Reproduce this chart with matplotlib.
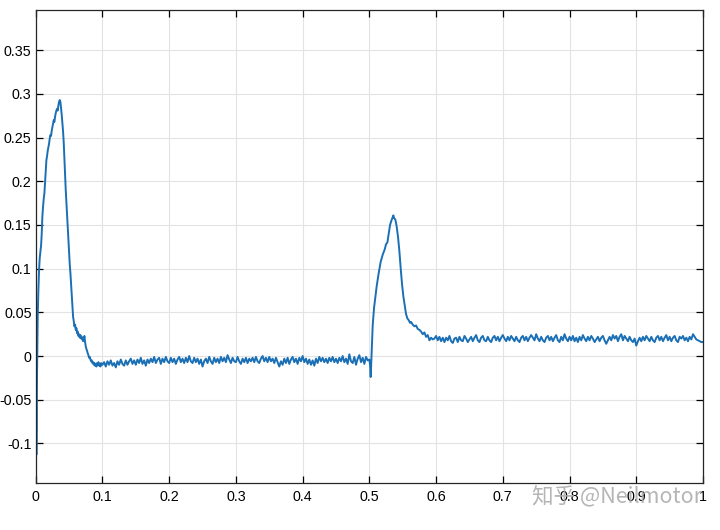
import numpy as np
import matplotlib
matplotlib.use("Agg")
import matplotlib.pyplot as plt
from matplotlib.ticker import FuncFormatter

# ---- Data (time in s, signal value) ----
# Segment A: start-up transient, 0 .. 0.1
t_start = [0.0, 0.0005, 0.001, 0.0015, 0.002, 0.003, 0.004, 0.005, 0.006, 0.007,
           0.0075, 0.008, 0.009, 0.010, 0.011, 0.012, 0.013, 0.014, 0.015, 0.016,
           0.017, 0.018, 0.019, 0.020, 0.021, 0.022, 0.023, 0.024, 0.025, 0.026,
           0.027, 0.028, 0.029, 0.030, 0.031, 0.032, 0.033, 0.034, 0.035, 0.036,
           0.037, 0.038, 0.039, 0.040, 0.041, 0.042, 0.043, 0.044, 0.045, 0.046,
           0.047, 0.048, 0.049, 0.050, 0.051, 0.052, 0.053, 0.054, 0.055, 0.056,
           0.057, 0.058, 0.059, 0.060, 0.061, 0.062, 0.063, 0.064, 0.065, 0.066,
           0.067, 0.068, 0.069, 0.070, 0.071, 0.072, 0.073, 0.074, 0.075, 0.076,
           0.077, 0.078, 0.079, 0.080, 0.081, 0.082, 0.083, 0.084, 0.085, 0.086,
           0.087, 0.088, 0.089, 0.090, 0.091, 0.092, 0.093, 0.094, 0.095, 0.096,
           0.097, 0.098, 0.099]
v_start = [0.072, -0.050, -0.113, -0.080, -0.020, 0.045, 0.075, 0.098, 0.112, 0.120,
           0.123, 0.126, 0.140, 0.160, 0.171, 0.180, 0.186, 0.198, 0.212, 0.224,
           0.229, 0.235, 0.239, 0.243, 0.249, 0.253, 0.252, 0.258, 0.262, 0.266,
           0.270, 0.268, 0.274, 0.278, 0.281, 0.283, 0.281, 0.287, 0.291, 0.293,
           0.291, 0.284, 0.276, 0.266, 0.257, 0.244, 0.225, 0.207, 0.190, 0.176,
           0.163, 0.149, 0.134, 0.118, 0.105, 0.095, 0.083, 0.070, 0.058, 0.045,
           0.040, 0.034, 0.036, 0.030, 0.032, 0.026, 0.028, 0.023, 0.025, 0.021,
           0.024, 0.020, 0.022, 0.019, 0.017, 0.020, 0.023, 0.016, 0.011, 0.008,
           0.006, 0.003, 0.001, -0.002, -0.001, -0.004, -0.006, -0.005, -0.008, -0.007,
           -0.010, -0.008, -0.011, -0.009, -0.012, -0.008, -0.010, -0.007, -0.011, -0.009,
           -0.012, -0.008, -0.010]

# Segment B: steady state 0.1 .. 0.4975 (step 0.0025)
v_steady1 = [-0.010, -0.007, -0.012, -0.006, -0.010, -0.005, -0.011, -0.008, -0.013, -0.006,
             -0.010, -0.004, -0.009, -0.011, -0.005, -0.010, -0.006, -0.003, -0.009, -0.005,
             -0.010, -0.004, -0.008, -0.002, -0.009, -0.005, -0.011, -0.004, -0.008, -0.003,
             -0.007, -0.001, -0.008, -0.004, -0.002, -0.009, -0.003, -0.007, -0.001, -0.006,
             -0.008, -0.002, -0.007, -0.003, -0.009, -0.004, -0.001, -0.007, -0.003, -0.008,
             -0.002, -0.007, 0.000, -0.006, -0.008, -0.002, -0.007, -0.003, -0.009, -0.004,
             -0.012, -0.006, -0.003, -0.008, -0.001, -0.006, -0.009, -0.002, -0.007, -0.003,
             -0.008, -0.001, -0.006, -0.002, -0.007, 0.001, -0.004, -0.008, -0.002, -0.006,
             -0.007, -0.001, -0.006, -0.009, -0.003, -0.007, -0.002, -0.008, -0.003, -0.006,
             -0.002, -0.007, -0.001, -0.006, -0.008, -0.003, 0.000, -0.006, -0.002, -0.007,
             -0.001, -0.006, -0.003, -0.008, -0.002, -0.007, -0.012, -0.006, -0.010, -0.003,
             -0.008, -0.002, -0.009, -0.004, -0.001, -0.007, -0.003, -0.009, -0.002, -0.006,
             0.000, -0.007, -0.003, -0.009, -0.004, -0.010, -0.005, -0.011, -0.003, -0.008,
             -0.001, -0.006, -0.002, -0.007, -0.003, -0.008, -0.002, -0.006, -0.001, -0.007,
             -0.003, -0.008, -0.002, -0.006, 0.000, -0.007, -0.003, -0.009, 0.002, -0.006,
             -0.008, -0.001, -0.010, -0.003, 0.001, -0.007, -0.002, -0.009, -0.001, -0.005]

# Segment C: load step transient, 0.5 .. 0.6
t_step = [0.500, 0.501, 0.502, 0.5035, 0.505, 0.507, 0.509, 0.511, 0.514, 0.517,
          0.520, 0.523, 0.525, 0.527, 0.529, 0.531, 0.533, 0.535, 0.536, 0.537,
          0.539, 0.541, 0.543, 0.545, 0.547, 0.549, 0.551, 0.553, 0.555, 0.557,
          0.559, 0.561, 0.5625, 0.565, 0.5675, 0.570, 0.5725, 0.575, 0.5775, 0.580,
          0.5825, 0.585, 0.5875, 0.590, 0.5925, 0.595, 0.5975]
v_step = [-0.004, -0.010, -0.024, 0.005, 0.035, 0.055, 0.068, 0.080, 0.095, 0.108,
          0.116, 0.122, 0.128, 0.130, 0.140, 0.150, 0.155, 0.159, 0.161, 0.158,
          0.156, 0.148, 0.136, 0.120, 0.100, 0.082, 0.068, 0.058, 0.048, 0.043,
          0.041, 0.038, 0.039, 0.036, 0.034, 0.035, 0.031, 0.030, 0.028, 0.025,
          0.027, 0.022, 0.024, 0.018, 0.021, 0.019, 0.020]

# Segment D: steady state 0.6 .. 1.0 (step 0.0025)
v_steady2 = [0.023, 0.018, 0.022, 0.017, 0.021, 0.016, 0.021, 0.018, 0.023, 0.017,
             0.015, 0.020, 0.021, 0.016, 0.022, 0.018, 0.017, 0.023, 0.020, 0.016,
             0.019, 0.022, 0.017, 0.021, 0.024, 0.018, 0.016, 0.021, 0.023, 0.018,
             0.017, 0.022, 0.018, 0.016, 0.021, 0.023, 0.018, 0.022, 0.017, 0.021,
             0.024, 0.020, 0.017, 0.022, 0.018, 0.023, 0.020, 0.017, 0.022, 0.018,
             0.016, 0.021, 0.023, 0.018, 0.022, 0.017, 0.021, 0.024, 0.021, 0.018,
             0.025, 0.020, 0.017, 0.022, 0.018, 0.016, 0.021, 0.023, 0.018, 0.022,
             0.017, 0.021, 0.024, 0.018, 0.016, 0.022, 0.018, 0.025, 0.020, 0.017,
             0.022, 0.018, 0.023, 0.017, 0.021, 0.016, 0.022, 0.018, 0.024, 0.020,
             0.017, 0.022, 0.018, 0.023, 0.020, 0.016, 0.019, 0.022, 0.017, 0.021,
             0.023, 0.018, 0.014, 0.018, 0.022, 0.018, 0.024, 0.020, 0.023, 0.017,
             0.022, 0.025, 0.018, 0.023, 0.020, 0.017, 0.022, 0.018, 0.016, 0.020,
             0.012, 0.017, 0.021, 0.017, 0.022, 0.018, 0.023, 0.020, 0.017, 0.022,
             0.018, 0.016, 0.021, 0.023, 0.018, 0.022, 0.017, 0.021, 0.024, 0.018,
             0.022, 0.017, 0.021, 0.023, 0.018, 0.016, 0.022, 0.020, 0.023, 0.018,
             0.021, 0.017, 0.022, 0.019, 0.025, 0.022, 0.019, 0.018, 0.017, 0.016,
             0.016]

x_ticks = [0, 0.1, 0.2, 0.3, 0.4, 0.5, 0.6, 0.7, 0.8, 0.9, 1.0]
y_ticks = [-0.1, -0.05, 0, 0.05, 0.1, 0.15, 0.2, 0.25, 0.3, 0.35]
watermark = "知乎 @Neilmotor"

# ---- Assemble series ----
t_steady1 = 0.1 + 0.0025 * np.arange(len(v_steady1))
t_steady2 = 0.6 + 0.0025 * np.arange(len(v_steady2))
t = np.concatenate([t_start, t_steady1, t_step, t_steady2])
v = np.concatenate([v_start, v_steady1, v_step, v_steady2])

plt.rcParams['font.family'] = ['Liberation Sans', 'DejaVu Sans']

fig = plt.figure(figsize=(7.2, 5.3), dpi=100)
ax = fig.add_axes([0.0496, 0.0892, 0.9268, 0.8918])

ax.plot(t, v, color='#1a6fb5', linewidth=1.4)

ax.set_xlim(0, 1)
ax.set_ylim(-0.145, 0.396)
ax.set_xticks(x_ticks)
ax.set_yticks(y_ticks)
fmt = FuncFormatter(lambda val, pos: ('%g' % round(val, 4)))
ax.xaxis.set_major_formatter(fmt)
ax.yaxis.set_major_formatter(fmt)

ax.grid(True, color='#e3e3e3', linewidth=0.8)
ax.set_axisbelow(True)
ax.tick_params(direction='in', length=5, width=0.9, top=True, right=True,
               labelsize=10.3, colors='black')
ax.tick_params(axis='y', pad=3)
ax.tick_params(axis='x', pad=5)
for s in ax.spines.values():
    s.set_linewidth(0.9)
    s.set_color('#262626')

fig.text(0.857, 0.062, watermark, ha='center', va='center', fontsize=15.5,
         color='#a8a8a8', alpha=0.85,
         family=['Noto Sans CJK SC', 'DejaVu Sans'])

fig.savefig('out.png', dpi=100)
